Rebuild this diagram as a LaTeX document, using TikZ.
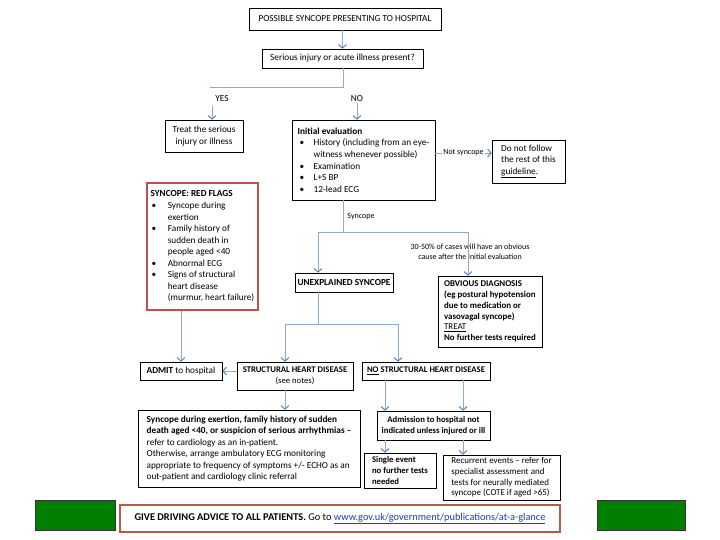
\documentclass[tikz,border=0pt]{standalone}
\usepackage{fontspec}
\setmainfont{Carlito}
\usetikzlibrary{arrows.meta}
\definecolor{conn}{HTML}{8FAACB}
\definecolor{tipc}{HTML}{5B81B8}
\definecolor{redb}{HTML}{C0504D}
\definecolor{drv}{HTML}{B65A4E}
\definecolor{grn}{HTML}{008000}
\definecolor{linkblue}{HTML}{1F3FBF}
\newcommand\mybul[1][2bp]{\hspace*{#1}\makebox[14bp][l]{\textbullet}}
\newcommand\myind[1][16bp]{\hspace*{#1}}
\begin{document}
\begin{tikzpicture}[x=1bp,y=-1bp,
  font=\fontsize{9.3}{11.6}\selectfont,
  box/.style={draw=black, line width=0.6pt, inner sep=0pt, align=center},
  lbox/.style={box, align=left},
  conn/.style={draw=conn, line width=1pt},
  arr/.style={conn, -{Straight Barb[length=3.5bp,width=8bp,color=tipc,line width=1pt]}},
  lbl/.style={inner sep=1pt, font=\fontsize{8}{10.5}\selectfont},
  small/.style={font=\fontsize{8.7}{11}\selectfont}]
\path[fill=white, use as bounding box] (0,0) rectangle (720,540);

% boxes
\node[box, minimum width=192bp, minimum height=22bp] (b1) at (345,19) {POSSIBLE SYNCOPE PRESENTING TO HOSPITAL};
\node[box, minimum width=161bp, minimum height=19bp] (b2) at (342.5,58.5) {Serious injury or acute illness present?};
\node[box, minimum width=78bp, minimum height=32bp] (tr) at (204,136) {Treat the serious\\injury or illness};
\node[lbox, minimum width=143bp, minimum height=80bp] (ev) at (363.5,160) {%
\textbf{Initial evaluation}\\
\mybul History (including from an eye-\\
\myind witness whenever possible)\\
\mybul Examination\\
\mybul L+S BP\\
\mybul 12-lead ECG};
\node[lbox, minimum width=73bp, minimum height=43bp] (nf) at (528.5,161.5) {Do not follow\\the rest of this\\\underline{guideline}.};
\node[lbox, draw=redb, line width=1.3pt, minimum width=111bp, minimum height=127bp] (rf) at (202.5,246.5) {%
\textbf{SYNCOPE: RED FLAGS}\\
\mybul[1bp] Syncope during\\
\myind[15bp] exertion\\
\mybul[1bp] Family history of\\
\myind[15bp] sudden death in\\
\myind[15bp] people aged <40\\
\mybul[1bp] Abnormal ECG\\
\mybul[1bp] Signs of structural\\
\myind[15bp] heart disease\\
\myind[15bp] (murmur, heart failure)};
\node[box, minimum width=98bp, minimum height=19bp] (un) at (344,282.5) {\textbf{UNEXPLAINED SYNCOPE}};
\node[lbox, minimum width=104bp, minimum height=71bp, font=\fontsize{8.9}{10.8}\selectfont] (ob) at (490,311.5) {%
\textbf{OBVIOUS DIAGNOSIS}\\
\textbf{(eg postural hypotension}\\
\textbf{due to medication or}\\
\textbf{vasovagal syncope)}\\
\underline{TREAT}\\
\textbf{No further tests required}};
\node[box, minimum width=82bp, minimum height=18bp] (ad) at (181,371) {\textbf{ADMIT} to hospital};
\node[box, minimum width=116bp, minimum height=28bp, small] (st) at (295,376) {\textbf{STRUCTURAL HEART DISEASE}\\(see notes)};
\node[box, minimum width=128bp, minimum height=18bp, small] (ns) at (426,371) {\textbf{\underline{NO} STRUCTURAL HEART DISEASE}};
\node[lbox, minimum width=222bp, minimum height=77bp] (sy) at (249,448.5) {%
\textbf{Syncope during exertion, family history of sudden}\\
\textbf{death aged <40, or suspicion of serious arrhythmias –}\\
refer to cardiology as an in-patient.\\
Otherwise, arrange ambulatory ECG monitoring\\
appropriate to frequency of symptoms +/- ECHO as an\\
out-patient and cardiology clinic referral};
\node[box, minimum width=113bp, minimum height=29bp, small] (am) at (433.5,425.5) {\textbf{Admission to hospital not}\\\textbf{indicated unless injured or ill}};
\node[lbox, minimum width=72bp, minimum height=35bp, small] (se) at (400,470.5) {\textbf{Single event}\\\textbf{no further tests}\\\textbf{needed}};
\node[lbox, minimum width=117bp, minimum height=45bp, font=\fontsize{9}{10.8}\selectfont] (re) at (501.5,477.5) {Recurrent events – refer for\\specialist assessment and\\tests for neurally mediated\\syncope (COTE if aged >65)};

\node[draw=black!80, fill=grn, minimum width=80bp, minimum height=30bp] (gl) at (75,515) {};
\node[draw=black!80, fill=grn, minimum width=88bp, minimum height=30bp] (gr) at (641,515) {};
\node[draw=drv, line width=1.3pt, fill=white, minimum width=440bp, minimum height=27bp, font=\fontsize{10.4}{12}\selectfont] (dr) at (340,518.5)
 {\textbf{GIVE DRIVING ADVICE TO ALL PATIENTS.} Go to \textcolor{linkblue}{\underline{www.gov.uk/government/publications/at-a-glance}}};

% labels
\node[lbl, font=\fontsize{9.3}{11}\selectfont] (yes) at (222,99) {YES};
\node[lbl, font=\fontsize{9.3}{11}\selectfont] (no) at (357,99) {NO};
\node[lbl, align=center] (pct) at (470,251.5) {30-50\% of cases will have an obvious\\cause after the initial evaluation};

% connectors
\draw[arr] (b1.south -| b2.north) -- (b2.north);
\coordinate (j1) at (343,88);
\coordinate (j2) at (210,88);
\draw[conn] (b2.south -| j1) -- (j1) -- (j2);
\coordinate (ya) at (212,106);
\draw[arr] (ya) -- (ya |- tr.north);
\draw[arr] (no.south) -- (no.south |- ev.north);
\draw[arr] ([yshift=7bp]ev.east) -- ([yshift=7bp]ev.east -| nf.west)
  node[lbl, midway, fill=white] {Not syncope};
\coordinate (s1) at (343,232);
\coordinate (s2) at (318,232);
\coordinate (s3) at (468,232);
\draw[conn] (ev.south -| s1) -- (s1) node[lbl, pos=0.5, right=3bp] {Syncope};
\draw[conn] (s2) -- (s3);
\draw[arr] (s2) -- (s2 |- un.north);
\draw[arr] (s3) -- (s3 |- ob.north);
\draw[arr] (rf.south -| ad.north) -- (ad.north);
\coordinate (u1) at (318,324);
\coordinate (u2) at (285,324);
\coordinate (u3) at (398,324);
\draw[conn] (un.south -| u1) -- (u1);
\draw[conn] (u2) -- (u3);
\draw[arr] (u2) -- (u2 |- st.north);
\draw[arr] (u3) -- (u3 |- ns.north);
\draw[arr] (st.west |- ad.east) -- (ad.east);
\draw[arr] (st.south -| u2) -- (u2 |- sy.north);
\coordinate (c1) at (385,400);
\coordinate (c2) at (463,400);
\draw[arr] (ns.south -| c1) -- (c1 |- am.north);
\draw[arr] (ns.south -| c2) -- (c2 |- am.north);
\draw[arr] (am.south -| c1) -- (c1 |- se.north);
\draw[arr] (am.south -| c2) -- (c2 |- re.north);
\end{tikzpicture}
\end{document}
